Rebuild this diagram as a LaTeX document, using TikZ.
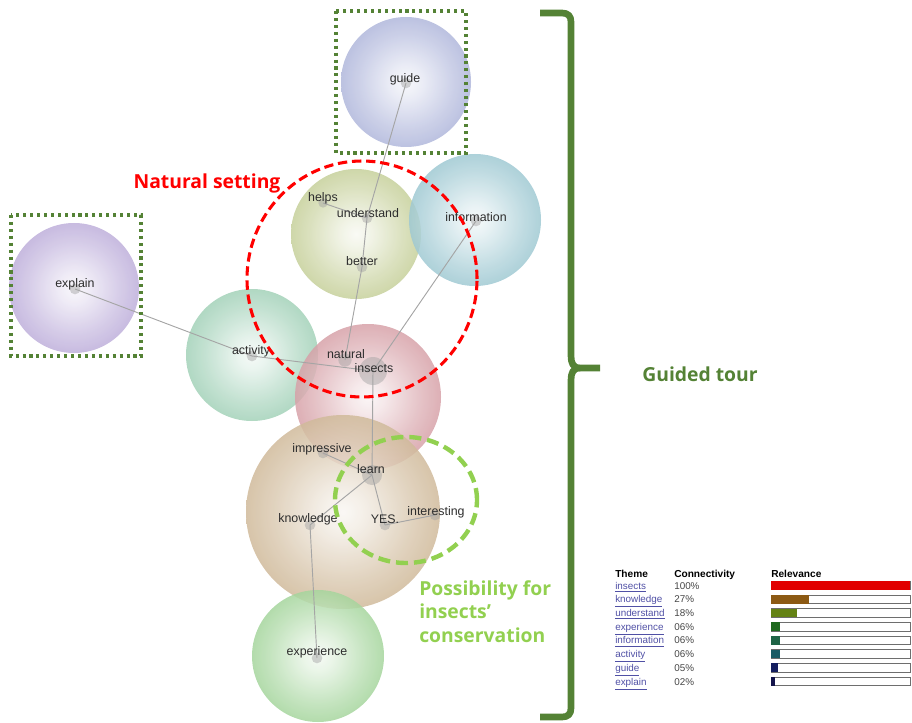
\documentclass[tikz,border=0pt]{standalone}
\usepackage{fontspec}
\setmainfont{Liberation Sans}
\newfontfamily\titlefont{Open Sans}
\definecolor{cguide}{RGB}{140,150,203}
\definecolor{cund}{RGB}{172,186,108}
\definecolor{cinfo}{RGB}{115,176,190}
\definecolor{cexpl}{RGB}{160,138,202}
\definecolor{cact}{RGB}{120,188,152}
\definecolor{cins}{RGB}{196,118,128}
\definecolor{cknow}{RGB}{186,154,108}
\definecolor{cexp}{RGB}{124,194,112}
\definecolor{dkgreen}{RGB}{84,130,53}
\definecolor{ltgreen}{RGB}{146,208,80}
\definecolor{lbl}{RGB}{45,45,45}
\definecolor{linkc}{RGB}{80,80,165}
\definecolor{pctc}{RGB}{70,70,70}
\definecolor{bar1}{RGB}{225,0,0}
\definecolor{bar2}{RGB}{140,90,20}
\definecolor{bar3}{RGB}{100,130,20}
\definecolor{bar4}{RGB}{30,105,30}
\definecolor{bar5}{RGB}{30,100,70}
\definecolor{bar6}{RGB}{25,90,100}
\definecolor{bar7}{RGB}{20,30,95}
\definecolor{bar8}{RGB}{20,20,75}
\colorlet{bubc}{cguide}
\pgfdeclareradialshading[bubc]{bubshade}{\pgfpoint{0bp}{0bp}}{color(0bp)=(white!92!bubc); color(5bp)=(white!80!bubc); color(15bp)=(white!48!bubc); color(26.7bp)=(white!15!bubc); color(36.7bp)=(bubc); color(41.7bp)=(bubc!90!black); color(100bp)=(bubc!90!black)}
\newcommand{\drawbubble}[3]{%
  \begin{scope}
    \clip #2 circle[radius=#3];
    \shade[bubble=#1] #2 circle[radius=1.2*#3];
  \end{scope}}
\tikzset{
  bubble/.style={/utils/exec={\colorlet{bubc}{#1}}, shading=bubshade, fill opacity=0.85},
  edge/.style={draw={rgb,255:red,165;green,165;blue,165}, line width=0.7pt},
  dotn/.style={circle, fill={rgb,255:red,160;green,160;blue,160}, fill opacity=0.45, inner sep=0pt, minimum size=#1},
  lab/.style={font=\fontsize{9.3}{10}\selectfont, text=lbl, inner sep=0pt},
  gbox/.style={draw=dkgreen, line width=3pt, dash pattern=on 2.3pt off 2.9pt},
  brace/.style={draw=dkgreen, line width=5pt},
  title/.style={font=\titlefont\bfseries\fontsize{14.5}{17.6}\selectfont, inner sep=0pt},
  lnk/.style={font=\fontsize{7.4}{8}\selectfont, text=linkc, anchor=base west, inner sep=0pt},
  pct/.style={font=\fontsize{7.4}{8}\selectfont, text=pctc, anchor=base west, inner sep=0pt},
  hdr/.style={font=\bfseries\fontsize{7.6}{8}\selectfont, anchor=base west, inner sep=0pt},
  barbox/.style={draw={rgb,255:red,110;green,110;blue,110}, line width=0.6pt, fill=white},
}
\begin{document}
\begin{tikzpicture}[x=0.75pt, y=-0.75pt]
\useasboundingbox (0,0) rectangle (912,723);
% bubbles
\drawbubble{cguide}{(406,82)}{48.75pt}
\drawbubble{cund}{(356,234)}{48.75pt}
\drawbubble{cinfo}{(475,220)}{49.5pt}
\drawbubble{cexpl}{(74,288)}{48.75pt}
\drawbubble{cact}{(252,355)}{49.5pt}
\drawbubble{cins}{(368,397)}{54.75pt}
\drawbubble{cknow}{(343,512)}{72.75pt}
\drawbubble{cexp}{(318,656)}{49.5pt}
% dots
\node[dotn=8pt] (d-guide) at (406,83) {};
\node[dotn=7pt] (d-helps) at (323,203) {};
\node[dotn=8pt] (d-und) at (367,218) {};
\node[dotn=8pt] (d-better) at (362,267) {};
\node[dotn=8pt] (d-info) at (476,221) {};
\node[dotn=8pt] (d-expl) at (75,289) {};
\node[dotn=8pt] (d-act) at (252,356) {};
\node[dotn=10pt] (d-nat) at (345,360) {};
\node[dotn=21pt] (d-ins) at (373,371) {};
\node[dotn=8pt] (d-imp) at (323,453) {};
\node[dotn=15pt] (d-learn) at (372,475) {};
\node[dotn=8pt] (d-know) at (310,525) {};
\node[dotn=8pt] (d-yes) at (385,525) {};
\node[dotn=8pt] (d-int) at (435,515) {};
\node[dotn=8pt] (d-exp) at (317,658) {};
% edges
\draw[edge] (d-guide.center) -- (d-und.center);
\draw[edge] (d-helps.center) -- (d-und.center);
\draw[edge] (d-und.center) -- (d-better.center);
\draw[edge] (d-better.center) -- (d-nat.center);
\draw[edge] (d-info.center) -- (d-ins.center);
\draw[edge] (d-expl.center) -- (d-act.center);
\draw[edge] (d-act.center) -- (d-ins.center);
\draw[edge] (d-ins.center) -- (d-learn.center);
\draw[edge] (d-imp.center) -- (d-learn.center);
\draw[edge] (d-learn.center) -- (d-know.center);
\draw[edge] (d-learn.center) -- (d-yes.center);
\draw[edge] (d-yes.center) -- (d-int.center);
\draw[edge] (d-know.center) -- (d-exp.center);
% labels
\node[lab] (guide) at (405,79) {guide};
\node[lab] (helps) at (323,198) {helps};
\node[lab] (understand) at (368,213) {understand};
\node[lab] (better) at (362,261) {better};
\node[lab] (information) at (476,217) {information};
\node[lab] (explain) at (75,284) {explain};
\node[lab] (activity) at (251,351) {activity};
\node[lab] (natural) at (346,354) {natural};
\node[lab] (insects) at (374,368) {insects};
\node[lab] (impressive) at (322,449) {impressive};
\node[lab] (learn) at (371,469) {learn};
\node[lab] (knowledge) at (308,519) {knowledge};
\node[lab] (yes) at (385,519) {YES.};
\node[lab] (interesting) at (436,512) {interesting};
\node[lab] (experience) at (317,652) {experience};
% highlight shapes
\draw[gbox] (336,11) rectangle (466,153);
\draw[gbox] (11,215) rectangle (141,356);
\draw[red, line width=2.3pt, dash pattern=on 7pt off 3.6pt] (362,279) circle[x radius=86.25pt, y radius=88.5pt];
\draw[ltgreen, line width=3.3pt, dash pattern=on 9pt off 4.5pt] (406,500) circle[x radius=53.25pt, y radius=47.25pt];
% brace
\draw[brace, line join=round] (540,13) -- (562,13) .. controls (568,13) and (571,16) .. (571,22) -- (571,356) .. controls (571,363) and (573,368) .. (580,368) -- (600,368);
\draw[brace, line join=round] (580,368) .. controls (573,368) and (571,373) .. (571,380) -- (571,708) .. controls (571,714) and (568,717) .. (562,717) -- (540,717);
% titles
\node[title, text=red] (natset) at (207,183) {Natural setting};
\node[title, text=dkgreen] (gtour) at (700,374) {Guided tour};
\node[title, text=ltgreen, align=left, anchor=north west] (poss) at (419,580) {Possibility for\\insects’\\conservation};
% legend
\node[hdr] (h1) at (615,577) {Theme};
\node[hdr] (h2) at (674,577) {Connectivity};
\node[hdr] (h3) at (771,577) {Relevance};
\foreach \i/\w/\p/\e/\c in {0/insects/100\%/910/bar1, 1/knowledge/27\%/809/bar2, 2/understand/18\%/797/bar3, 3/experience/06\%/780/bar4, 4/information/06\%/780/bar5, 5/activity/06\%/780/bar6, 6/guide/05\%/778/bar7, 7/explain/02\%/775/bar8}{
  \pgfmathsetmacro{\yy}{585.5+13.7*\i}
  \node[lnk] (t\i) at (615,\yy+3.6) {\underline{\w}};
  \node[pct] (p\i) at (674,\yy+3.6) {\p};
  \draw[barbox] (771,\yy-4.3) rectangle (910,\yy+4.3);
  \fill[\c] (771,\yy-4.3) rectangle (\e,\yy+4.3);
}
\end{tikzpicture}
\end{document}
